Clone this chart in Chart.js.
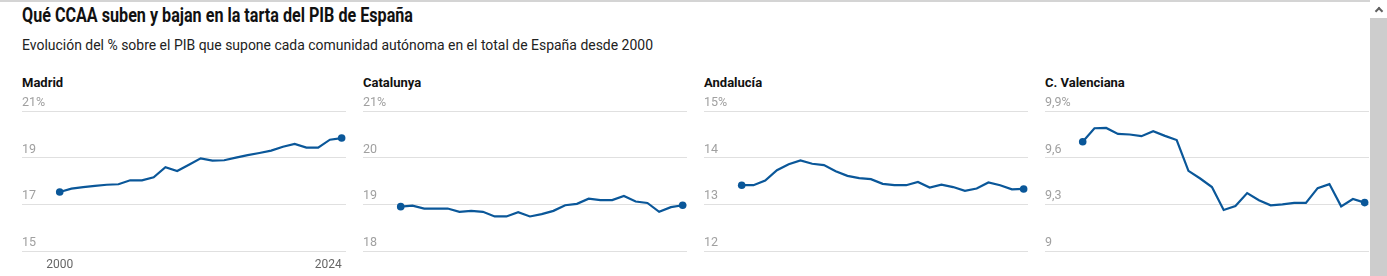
<!DOCTYPE html>
<html>
<head>
<meta charset="utf-8">
<script src="https://cdn.jsdelivr.net/npm/chart.js@4.4.0/dist/chart.umd.min.js"></script>
<style>
  html, body { margin: 0; padding: 0; background: #fff; overflow: hidden; }
  body { width: 1387px; height: 276px; position: relative; font-family: Roboto, "Noto Sans", sans-serif; }
  #topline { position: absolute; left: 0; top: 0; width: 1370px; height: 2px; background: #d4d4d4; }
  #title { position: absolute; left: 22px; top: 3px; font-weight: 700; font-size: 20px; color: #111; white-space: nowrap; transform-origin: 0 0; }
  #subtitle { position: absolute; left: 22px; top: 37px; font-size: 14px; color: #222; white-space: nowrap; transform-origin: 0 0; }
  .ptitle { position: absolute; top: 75px; font-weight: 700; font-size: 13px; color: #111; white-space: nowrap; }
  .cv { position: absolute; top: 85px; }
  #scroll { position: absolute; left: 1370px; top: 18px; width: 17px; height: 258px; background: #cdcdcd; }
  #arrow { position: absolute; left: 1376px; top: 8px; width: 4px; height: 4px; border-left: 2px solid #606060; border-top: 2px solid #606060; transform: rotate(45deg); }
</style>
</head>
<body>
<div id="topline"></div>
<div id="title">Qué CCAA suben y bajan en la tarta del PIB de España</div>
<div id="subtitle">Evolución del % sobre el PIB que supone cada comunidad autónoma en el total de España desde 2000</div>

<div class="ptitle" style="left:22px">Madrid</div>
<div class="ptitle" style="left:363px">Catalunya</div>
<div class="ptitle" style="left:704px">Andalucía</div>
<div class="ptitle" style="left:1045px">C. Valenciana</div>

<canvas id="c0" class="cv" width="344" height="191" style="left:12px"></canvas>
<canvas id="c1" class="cv" width="344" height="191" style="left:353px"></canvas>
<canvas id="c2" class="cv" width="344" height="191" style="left:694px"></canvas>
<canvas id="c3" class="cv" width="344" height="191" style="left:1035px"></canvas>

<div id="scroll"></div>
<div id="arrow"></div>

<script>
// ---- DATA ----
const years = [2000, 2001, 2002, 2003, 2004, 2005, 2006, 2007, 2008, 2009, 2010, 2011, 2012,
               2013, 2014, 2015, 2016, 2017, 2018, 2019, 2020, 2021, 2022, 2023, 2024];

const madrid = [17.53, 17.67, 17.74, 17.79, 17.84, 17.86, 18.03, 18.03, 18.16, 18.59, 18.43, 18.70, 18.97,
                18.87, 18.89, 19.00, 19.11, 19.20, 19.30, 19.47, 19.59, 19.43, 19.43, 19.77, 19.84];

const catalunya = [18.95, 18.97, 18.91, 18.91, 18.91, 18.84, 18.86, 18.84, 18.74, 18.74, 18.83, 18.74, 18.79,
                   18.86, 18.98, 19.01, 19.12, 19.09, 19.09, 19.18, 19.06, 19.03, 18.84, 18.94, 18.98];

const andalucia = [13.41, 13.41, 13.51, 13.73, 13.86, 13.94, 13.87, 13.84, 13.71, 13.61, 13.56, 13.54, 13.44,
                   13.41, 13.41, 13.48, 13.36, 13.42, 13.37, 13.29, 13.34, 13.47, 13.41, 13.32, 13.33];

const valenciana = [9.702, 9.789, 9.791, 9.753, 9.749, 9.738, 9.770, 9.740, 9.713, 9.515, 9.466, 9.411, 9.264,
                    9.289, 9.372, 9.326, 9.294, 9.300, 9.309, 9.309, 9.404, 9.430, 9.287, 9.334, 9.311];

const ticksMadrid = [15, 17, 19, 21];
const ticksCatalunya = [18, 19, 20, 21];
const ticksAndalucia = [12, 13, 14, 15];
const ticksValenciana = [9, 9.3, 9.6, 9.9];

// ---- STYLE / LAYOUT ----
const BLUE = '#0a5799';
const X_MIN = 1996.79;
const X_MAX = 2024.37;
// wanted plot area inside each 344x191 canvas
const AREA = { left: 10, right: 334, top: 26, bottom: 166 };

// fit title widths to reference
(function () {
  const t = document.getElementById('title');
  t.style.transform = 'scaleX(' + (391 / t.getBoundingClientRect().width) + ')';
  const s = document.getElementById('subtitle');
  s.style.transform = 'scaleX(' + (631 / s.getBoundingClientRect().width) + ')';
})();

function fmt(v) { return String(v).replace('.', ','); }

function makeChart(id, values, tickVals, showX) {
  const n = values.length;
  const yMin = tickVals[0], yMax = tickVals[tickVals.length - 1];
  const xTickColor = showX ? '#666' : 'rgba(0,0,0,0)';
  const xFont = { family: 'Roboto', size: 12 };
  const chart = new Chart(document.getElementById(id), {
    type: 'line',
    data: {
      datasets: [{
        data: years.map((y, i) => ({ x: y, y: values[i] })),
        borderColor: BLUE,
        backgroundColor: BLUE,
        borderWidth: 2.2,
        tension: 0,
        pointRadius: ctx => (ctx.dataIndex === 0 || ctx.dataIndex === n - 1) ? 3.8 : 0,
        pointBorderWidth: 0,
        pointHoverRadius: 0,
        clip: false
      }]
    },
    options: {
      responsive: false,
      animation: false,
      events: [],
      layout: { padding: { top: 26, left: 10, right: 10, bottom: 4 } },
      plugins: { legend: { display: false }, tooltip: { enabled: false } },
      scales: {
        x: {
          type: 'linear', min: X_MIN, max: X_MAX,
          grid: { display: false, drawTicks: false },
          border: { display: false },
          afterBuildTicks: s => { s.ticks = [{ value: years[0] }]; },
          ticks: { color: xTickColor, font: xFont, padding: 7, maxRotation: 0, autoSkip: false,
                   callback: v => String(v) }
        },
        x2: {
          type: 'linear', axis: 'x', position: { y: yMin }, min: X_MIN, max: X_MAX,
          grid: { display: false, drawTicks: false },
          border: { display: false },
          afterBuildTicks: s => { s.ticks = [{ value: years[n - 1] }]; },
          ticks: { color: xTickColor, font: xFont, padding: 7, maxRotation: 0, autoSkip: false, align: 'end',
                   callback: v => String(v) }
        },
        y: {
          type: 'linear', min: yMin, max: yMax,
          afterBuildTicks: s => { s.ticks = tickVals.map(v => ({ value: v })); },
          grid: { color: '#e0e0e0', lineWidth: 1, drawTicks: false },
          border: { display: false },
          ticks: {
            mirror: true, padding: 0, labelOffset: -8,
            color: '#a0a0a0', font: { family: 'Roboto', size: 12.5 },
            callback: (v, i, arr) => i === arr.length - 1 ? fmt(v) + '%' : fmt(v)
          }
        }
      }
    }
  });
  // adjust the layout padding until the plot area sits exactly where wanted
  for (let k = 0; k < 4; k++) {
    const ca = chart.chartArea;
    const p = chart.options.layout.padding;
    const np = {
      top: p.top + (AREA.top - ca.top),
      left: p.left + (AREA.left - ca.left),
      right: p.right + (ca.right - AREA.right),
      bottom: p.bottom + (ca.bottom - AREA.bottom)
    };
    chart.options.layout.padding = np;
    chart.update();
  }
  return chart;
}

makeChart('c0', madrid, ticksMadrid, true);
makeChart('c1', catalunya, ticksCatalunya, false);
makeChart('c2', andalucia, ticksAndalucia, false);
makeChart('c3', valenciana, ticksValenciana, false);
</script>
</body>
</html>
